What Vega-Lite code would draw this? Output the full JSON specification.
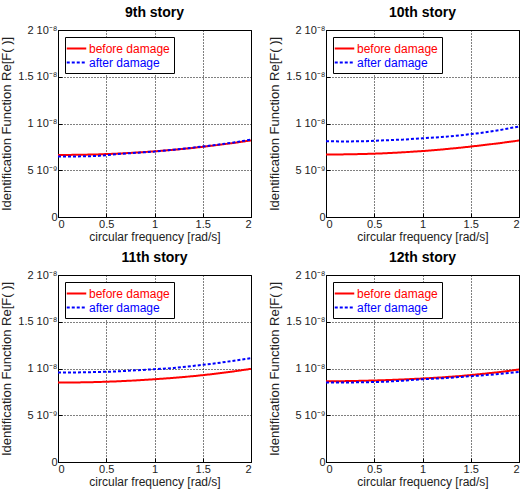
{
  "$schema": "https://vega.github.io/schema/vega-lite/v6.json",
  "padding": {"left": 0, "top": 5, "right": 0, "bottom": 2},
  "background": "white",
  "datasets": {
    "d": [
      {"story": "9th story", "series": "before damage", "w": 0.0, "v": 6.63e-9},
      {"story": "9th story", "series": "before damage", "w": 0.2, "v": 6.65e-9},
      {"story": "9th story", "series": "before damage", "w": 0.4, "v": 6.69e-9},
      {"story": "9th story", "series": "before damage", "w": 0.6, "v": 6.77e-9},
      {"story": "9th story", "series": "before damage", "w": 0.8, "v": 6.88e-9},
      {"story": "9th story", "series": "before damage", "w": 1.0, "v": 7.02e-9},
      {"story": "9th story", "series": "before damage", "w": 1.2, "v": 7.19e-9},
      {"story": "9th story", "series": "before damage", "w": 1.4, "v": 7.39e-9},
      {"story": "9th story", "series": "before damage", "w": 1.6, "v": 7.63e-9},
      {"story": "9th story", "series": "before damage", "w": 1.8, "v": 7.89e-9},
      {"story": "9th story", "series": "before damage", "w": 2.0, "v": 8.19e-9},
      {"story": "9th story", "series": "after damage", "w": 0.0, "v": 6.47e-9},
      {"story": "9th story", "series": "after damage", "w": 0.2, "v": 6.48e-9},
      {"story": "9th story", "series": "after damage", "w": 0.4, "v": 6.52e-9},
      {"story": "9th story", "series": "after damage", "w": 0.6, "v": 6.72e-9},
      {"story": "9th story", "series": "after damage", "w": 0.8, "v": 6.86e-9},
      {"story": "9th story", "series": "after damage", "w": 1.0, "v": 7.0e-9},
      {"story": "9th story", "series": "after damage", "w": 1.2, "v": 7.2e-9},
      {"story": "9th story", "series": "after damage", "w": 1.4, "v": 7.42e-9},
      {"story": "9th story", "series": "after damage", "w": 1.6, "v": 7.66e-9},
      {"story": "9th story", "series": "after damage", "w": 1.8, "v": 7.94e-9},
      {"story": "9th story", "series": "after damage", "w": 2.0, "v": 8.27e-9},
      {"story": "10th story", "series": "before damage", "w": 0.0, "v": 6.68e-9},
      {"story": "10th story", "series": "before damage", "w": 0.2, "v": 6.7e-9},
      {"story": "10th story", "series": "before damage", "w": 0.4, "v": 6.74e-9},
      {"story": "10th story", "series": "before damage", "w": 0.6, "v": 6.81e-9},
      {"story": "10th story", "series": "before damage", "w": 0.8, "v": 6.92e-9},
      {"story": "10th story", "series": "before damage", "w": 1.0, "v": 7.05e-9},
      {"story": "10th story", "series": "before damage", "w": 1.2, "v": 7.22e-9},
      {"story": "10th story", "series": "before damage", "w": 1.4, "v": 7.42e-9},
      {"story": "10th story", "series": "before damage", "w": 1.6, "v": 7.65e-9},
      {"story": "10th story", "series": "before damage", "w": 1.8, "v": 7.9e-9},
      {"story": "10th story", "series": "before damage", "w": 2.0, "v": 8.18e-9},
      {"story": "10th story", "series": "after damage", "w": 0.0, "v": 8.1e-9},
      {"story": "10th story", "series": "after damage", "w": 0.2, "v": 8.08e-9},
      {"story": "10th story", "series": "after damage", "w": 0.4, "v": 8.1e-9},
      {"story": "10th story", "series": "after damage", "w": 0.6, "v": 8.2e-9},
      {"story": "10th story", "series": "after damage", "w": 0.8, "v": 8.28e-9},
      {"story": "10th story", "series": "after damage", "w": 1.0, "v": 8.42e-9},
      {"story": "10th story", "series": "after damage", "w": 1.2, "v": 8.55e-9},
      {"story": "10th story", "series": "after damage", "w": 1.4, "v": 8.75e-9},
      {"story": "10th story", "series": "after damage", "w": 1.6, "v": 8.98e-9},
      {"story": "10th story", "series": "after damage", "w": 1.8, "v": 9.3e-9},
      {"story": "10th story", "series": "after damage", "w": 2.0, "v": 9.68e-9},
      {"story": "11th story", "series": "before damage", "w": 0.0, "v": 8.49e-9},
      {"story": "11th story", "series": "before damage", "w": 0.2, "v": 8.51e-9},
      {"story": "11th story", "series": "before damage", "w": 0.4, "v": 8.55e-9},
      {"story": "11th story", "series": "before damage", "w": 0.6, "v": 8.62e-9},
      {"story": "11th story", "series": "before damage", "w": 0.8, "v": 8.72e-9},
      {"story": "11th story", "series": "before damage", "w": 1.0, "v": 8.85e-9},
      {"story": "11th story", "series": "before damage", "w": 1.2, "v": 9.0e-9},
      {"story": "11th story", "series": "before damage", "w": 1.4, "v": 9.18e-9},
      {"story": "11th story", "series": "before damage", "w": 1.6, "v": 9.4e-9},
      {"story": "11th story", "series": "before damage", "w": 1.8, "v": 9.66e-9},
      {"story": "11th story", "series": "before damage", "w": 2.0, "v": 9.96e-9},
      {"story": "11th story", "series": "after damage", "w": 0.0, "v": 9.57e-9},
      {"story": "11th story", "series": "after damage", "w": 0.2, "v": 9.58e-9},
      {"story": "11th story", "series": "after damage", "w": 0.4, "v": 9.62e-9},
      {"story": "11th story", "series": "after damage", "w": 0.6, "v": 9.68e-9},
      {"story": "11th story", "series": "after damage", "w": 0.8, "v": 9.8e-9},
      {"story": "11th story", "series": "after damage", "w": 1.0, "v": 9.93e-9},
      {"story": "11th story", "series": "after damage", "w": 1.2, "v": 1.005e-8},
      {"story": "11th story", "series": "after damage", "w": 1.4, "v": 1.028e-8},
      {"story": "11th story", "series": "after damage", "w": 1.6, "v": 1.05e-8},
      {"story": "11th story", "series": "after damage", "w": 1.8, "v": 1.08e-8},
      {"story": "11th story", "series": "after damage", "w": 2.0, "v": 1.11e-8},
      {"story": "12th story", "series": "before damage", "w": 0.0, "v": 8.63e-9},
      {"story": "12th story", "series": "before damage", "w": 0.2, "v": 8.65e-9},
      {"story": "12th story", "series": "before damage", "w": 0.4, "v": 8.69e-9},
      {"story": "12th story", "series": "before damage", "w": 0.6, "v": 8.75e-9},
      {"story": "12th story", "series": "before damage", "w": 0.8, "v": 8.83e-9},
      {"story": "12th story", "series": "before damage", "w": 1.0, "v": 8.93e-9},
      {"story": "12th story", "series": "before damage", "w": 1.2, "v": 9.05e-9},
      {"story": "12th story", "series": "before damage", "w": 1.4, "v": 9.2e-9},
      {"story": "12th story", "series": "before damage", "w": 1.6, "v": 9.4e-9},
      {"story": "12th story", "series": "before damage", "w": 1.8, "v": 9.62e-9},
      {"story": "12th story", "series": "before damage", "w": 2.0, "v": 9.89e-9},
      {"story": "12th story", "series": "after damage", "w": 0.0, "v": 8.49e-9},
      {"story": "12th story", "series": "after damage", "w": 0.2, "v": 8.5e-9},
      {"story": "12th story", "series": "after damage", "w": 0.4, "v": 8.53e-9},
      {"story": "12th story", "series": "after damage", "w": 0.6, "v": 8.58e-9},
      {"story": "12th story", "series": "after damage", "w": 0.8, "v": 8.7e-9},
      {"story": "12th story", "series": "after damage", "w": 1.0, "v": 8.85e-9},
      {"story": "12th story", "series": "after damage", "w": 1.2, "v": 8.95e-9},
      {"story": "12th story", "series": "after damage", "w": 1.4, "v": 9.1e-9},
      {"story": "12th story", "series": "after damage", "w": 1.6, "v": 9.25e-9},
      {"story": "12th story", "series": "after damage", "w": 1.8, "v": 9.42e-9},
      {"story": "12th story", "series": "after damage", "w": 2.0, "v": 9.64e-9}
    ]
  },
  "config": {
    "font": "Liberation Sans",
    "view": {"stroke": "black", "strokeWidth": 1},
    "title": {"fontSize": 14, "fontWeight": "bold", "font": "Liberation Sans", "color": "black", "frame": "group", "anchor": "middle", "offset": 4},
    "axis": {
      "labelFont": "Liberation Sans", "labelFontSize": 11, "labelColor": "#222",
      "titleFont": "Liberation Sans", "titleFontSize": 12, "titleFontWeight": "normal", "titleColor": "#222",
      "grid": true, "gridColor": "black", "gridDash": [1, 2], "gridOpacity": 1, "gridWidth": 1,
      "ticks": true, "tickSize": -4, "tickColor": "black", "domain": false, "labelPadding": 5
    },
    "axisX": {"labelPadding": 5, "titlePadding": 2},
    "axisY": {"titleFontSize": 13},
    "legend": {
      "orient": "top-left", "offset": 7, "strokeColor": "black", "fillColor": "white",
      "padding": 4, "symbolType": "M-1.5,0H1.5", "symbolSize": 169, "symbolStrokeWidth": 2,
      "labelFont": "Liberation Sans", "labelFontSize": 12, "labelOffset": 5, "rowPadding": 0,
      "labelLimit": 200
    }
  },
  "columns": 2,
  "spacing": {"row": 7, "column": 12},
  "resolve": {"legend": {"color": "independent", "strokeDash": "independent"}},
  "concat": [
    {
      "title": "9th story", "width": 193, "height": 187,
      "data": {"name": "d"},
      "transform": [{"filter": "datum.story == '9th story'"}],
      "mark": {"type": "line", "strokeWidth": 2},
      "encoding": {
        "x": {"field": "w", "type": "quantitative", "scale": {"domain": [0, 2], "nice": false}, "axis": {"title": "circular frequency [rad/s]", "values": [0, 0.5, 1, 1.5, 2], "format": "~g"}},
        "y": {"field": "v", "type": "quantitative", "scale": {"domain": [0, 2e-8], "nice": false}, "axis": {"title": "Identification Function Re[F(    )]", "values": [0, 5e-9, 1e-8, 1.5e-8, 2e-8], "labelExpr": "datum.value < 1e-9 ? '0' : datum.value < 7e-9 ? '5 10⁻⁹' : datum.value < 1.2e-8 ? '1 10⁻⁸' : datum.value < 1.7e-8 ? '1.5 10⁻⁸' : '2 10⁻⁸'"}},
        "color": {"field": "series", "type": "nominal", "scale": {"domain": ["before damage", "after damage"], "range": ["#ff0000", "#0000ff"]}, "legend": {"title": null, "labelColor": {"expr": "datum.label == 'before damage' ? '#ff0000' : '#0000ff'"}}},
        "strokeDash": {"field": "series", "type": "nominal", "scale": {"domain": ["before damage", "after damage"], "range": [[1, 0], [3, 2]]}, "legend": {"title": null}}
      }
    },
    {
      "title": "10th story", "width": 193, "height": 187,
      "data": {"name": "d"},
      "transform": [{"filter": "datum.story == '10th story'"}],
      "mark": {"type": "line", "strokeWidth": 2},
      "encoding": {
        "x": {"field": "w", "type": "quantitative", "scale": {"domain": [0, 2], "nice": false}, "axis": {"title": "circular frequency [rad/s]", "values": [0, 0.5, 1, 1.5, 2], "format": "~g"}},
        "y": {"field": "v", "type": "quantitative", "scale": {"domain": [0, 2e-8], "nice": false}, "axis": {"title": "Identification Function Re[F(    )]", "values": [0, 5e-9, 1e-8, 1.5e-8, 2e-8], "labelExpr": "datum.value < 1e-9 ? '0' : datum.value < 7e-9 ? '5 10⁻⁹' : datum.value < 1.2e-8 ? '1 10⁻⁸' : datum.value < 1.7e-8 ? '1.5 10⁻⁸' : '2 10⁻⁸'"}},
        "color": {"field": "series", "type": "nominal", "scale": {"domain": ["before damage", "after damage"], "range": ["#ff0000", "#0000ff"]}, "legend": {"title": null, "labelColor": {"expr": "datum.label == 'before damage' ? '#ff0000' : '#0000ff'"}}},
        "strokeDash": {"field": "series", "type": "nominal", "scale": {"domain": ["before damage", "after damage"], "range": [[1, 0], [3, 2]]}, "legend": {"title": null}}
      }
    },
    {
      "title": "11th story", "width": 193, "height": 187,
      "data": {"name": "d"},
      "transform": [{"filter": "datum.story == '11th story'"}],
      "mark": {"type": "line", "strokeWidth": 2},
      "encoding": {
        "x": {"field": "w", "type": "quantitative", "scale": {"domain": [0, 2], "nice": false}, "axis": {"title": "circular frequency [rad/s]", "values": [0, 0.5, 1, 1.5, 2], "format": "~g"}},
        "y": {"field": "v", "type": "quantitative", "scale": {"domain": [0, 2e-8], "nice": false}, "axis": {"title": "Identification Function Re[F(    )]", "values": [0, 5e-9, 1e-8, 1.5e-8, 2e-8], "labelExpr": "datum.value < 1e-9 ? '0' : datum.value < 7e-9 ? '5 10⁻⁹' : datum.value < 1.2e-8 ? '1 10⁻⁸' : datum.value < 1.7e-8 ? '1.5 10⁻⁸' : '2 10⁻⁸'"}},
        "color": {"field": "series", "type": "nominal", "scale": {"domain": ["before damage", "after damage"], "range": ["#ff0000", "#0000ff"]}, "legend": {"title": null, "labelColor": {"expr": "datum.label == 'before damage' ? '#ff0000' : '#0000ff'"}}},
        "strokeDash": {"field": "series", "type": "nominal", "scale": {"domain": ["before damage", "after damage"], "range": [[1, 0], [3, 2]]}, "legend": {"title": null}}
      }
    },
    {
      "title": "12th story", "width": 193, "height": 187,
      "data": {"name": "d"},
      "transform": [{"filter": "datum.story == '12th story'"}],
      "mark": {"type": "line", "strokeWidth": 2},
      "encoding": {
        "x": {"field": "w", "type": "quantitative", "scale": {"domain": [0, 2], "nice": false}, "axis": {"title": "circular frequency [rad/s]", "values": [0, 0.5, 1, 1.5, 2], "format": "~g"}},
        "y": {"field": "v", "type": "quantitative", "scale": {"domain": [0, 2e-8], "nice": false}, "axis": {"title": "Identification Function Re[F(    )]", "values": [0, 5e-9, 1e-8, 1.5e-8, 2e-8], "labelExpr": "datum.value < 1e-9 ? '0' : datum.value < 7e-9 ? '5 10⁻⁹' : datum.value < 1.2e-8 ? '1 10⁻⁸' : datum.value < 1.7e-8 ? '1.5 10⁻⁸' : '2 10⁻⁸'"}},
        "color": {"field": "series", "type": "nominal", "scale": {"domain": ["before damage", "after damage"], "range": ["#ff0000", "#0000ff"]}, "legend": {"title": null, "labelColor": {"expr": "datum.label == 'before damage' ? '#ff0000' : '#0000ff'"}}},
        "strokeDash": {"field": "series", "type": "nominal", "scale": {"domain": ["before damage", "after damage"], "range": [[1, 0], [3, 2]]}, "legend": {"title": null}}
      }
    }
  ]
}
